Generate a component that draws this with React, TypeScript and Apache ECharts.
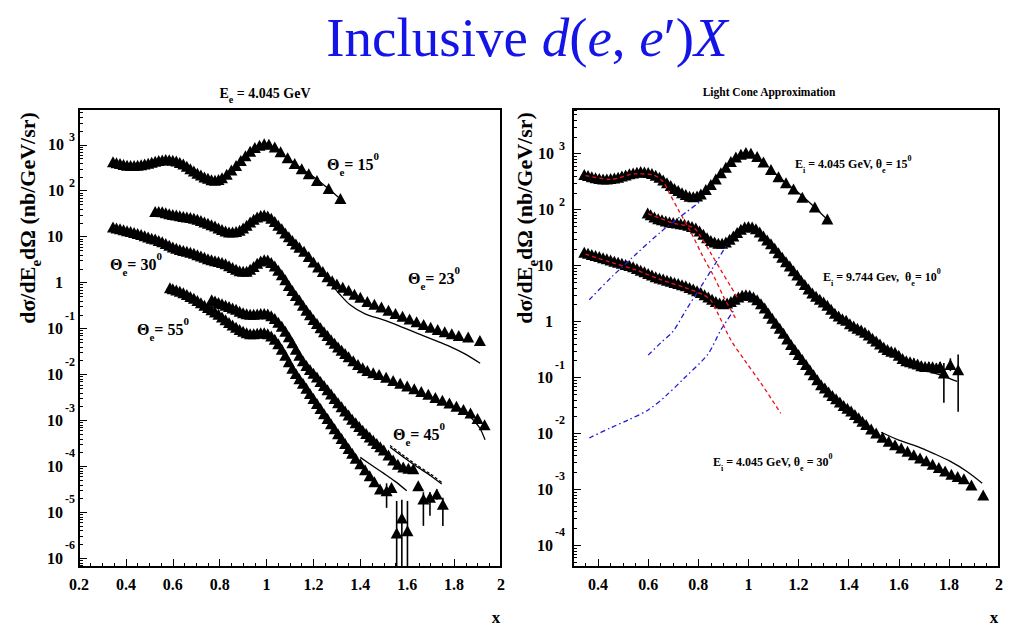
import React, { useEffect, useRef } from 'react';
import * as echarts from 'echarts';

const SERIF = '"Liberation Serif", "Times New Roman", Times, serif';

// ---------------- Left panel: E = 4.045 GeV ----------------
const theta15Data = [[0.345,427],[0.36,407],[0.375,389],[0.39,372],[0.405,359],[0.42,355],[0.435,355],[0.45,359],[0.465,367],[0.48,380],[0.495,398],[0.51,417],[0.525,437],[0.54,452],[0.555,468],[0.57,479],[0.585,473],[0.6,462],[0.615,442],[0.63,412],[0.645,380],[0.66,339],[0.675,302],[0.69,269],[0.705,240],[0.72,219],[0.735,200],[0.75,186],[0.765,174],[0.78,170],[0.795,176],[0.81,191],[0.83,229],[0.85,282],[0.87,355],[0.89,457],[0.91,575],[0.93,724],[0.95,871],[0.97,977],[0.99,1047],[1.01,1023],[1.035,891],[1.06,708],[1.09,525],[1.12,389],[1.15,302],[1.18,234],[1.215,166],[1.265,112],[1.315,68]];
const theta15Theory = [[1.1,470],[1.15,300],[1.2,200],[1.26,115],[1.32,63]];

const theta23Data = [[0.525,35.5],[0.54,35.5],[0.555,34.7],[0.57,33.1],[0.585,31.6],[0.6,30.2],[0.615,29.5],[0.63,28.5],[0.645,27.5],[0.66,26.9],[0.675,26.3],[0.69,25.1],[0.705,24],[0.72,22.4],[0.735,20.9],[0.75,19.5],[0.765,18.2],[0.78,17],[0.795,15.5],[0.81,14.3],[0.825,13.3],[0.84,12.7],[0.855,12.6],[0.87,12.9],[0.885,13.8],[0.9,15.5],[0.915,17.8],[0.93,20.9],[0.945,24],[0.96,26.9],[0.975,28.8],[0.99,29.5],[1.005,28.2],[1.02,25.1],[1.035,21.4],[1.05,17.8],[1.065,14.8],[1.08,12],[1.095,10],[1.11,8.3],[1.125,6.9],[1.14,5.9],[1.16,4.8],[1.18,3.7],[1.2,2.8],[1.22,2.19],[1.24,1.74],[1.26,1.35],[1.28,1.1],[1.3,0.93],[1.325,0.79],[1.35,0.68],[1.375,0.56],[1.4,0.48],[1.43,0.39],[1.46,0.34],[1.49,0.295],[1.52,0.25],[1.55,0.214],[1.58,0.186],[1.61,0.162],[1.64,0.141],[1.67,0.123],[1.7,0.107],[1.73,0.0955],[1.76,0.085],[1.79,0.0776],[1.82,0.0708],[1.86,0.066],[1.91,0.055]];
const theta23Theory = [[1.27,1.0],[1.31,0.575],[1.356,0.33],[1.42,0.209],[1.498,0.155],[1.57,0.112],[1.641,0.0794],[1.71,0.0575],[1.783,0.0407],[1.85,0.0275],[1.911,0.0176]];

const theta30Data = [[0.345,16.2],[0.36,15.5],[0.375,14.8],[0.39,14.1],[0.405,13.5],[0.42,12.9],[0.435,12.3],[0.45,11.7],[0.465,11.2],[0.48,10.5],[0.495,9.8],[0.51,9.3],[0.525,8.9],[0.54,8.3],[0.555,7.8],[0.57,7.1],[0.585,6.5],[0.6,6.0],[0.615,5.6],[0.63,5.25],[0.645,5.0],[0.66,4.8],[0.675,4.57],[0.69,4.37],[0.705,4.07],[0.72,3.8],[0.735,3.55],[0.75,3.3],[0.765,3.16],[0.78,3.0],[0.795,2.88],[0.81,2.75],[0.825,2.57],[0.84,2.34],[0.855,2.14],[0.87,1.95],[0.885,1.82],[0.9,1.76],[0.915,1.78],[0.93,1.95],[0.945,2.24],[0.96,2.63],[0.975,2.95],[0.99,3.16],[1.005,3.09],[1.02,2.75],[1.035,2.29],[1.05,1.86],[1.065,1.48],[1.08,1.15],[1.095,0.87],[1.11,0.676],[1.125,0.525],[1.14,0.417],[1.155,0.324],[1.17,0.251],[1.185,0.2],[1.2,0.158],[1.215,0.129],[1.23,0.105],[1.245,0.0851],[1.26,0.0708],[1.275,0.0575],[1.29,0.0479],[1.305,0.0398],[1.32,0.0339],[1.335,0.0288],[1.35,0.0245],[1.37,0.02],[1.39,0.0166],[1.41,0.0141],[1.43,0.0123],[1.455,0.011],[1.48,0.01],[1.51,0.0087],[1.54,0.00741],[1.57,0.00646],[1.6,0.00562],[1.63,0.0049],[1.66,0.00427],[1.69,0.00372],[1.72,0.00316],[1.75,0.00275],[1.78,0.0024],[1.81,0.00204],[1.84,0.00174],[1.87,0.00145],[1.9,0.0011],[1.93,0.000813]];
const theta30Theory = [[1.82,0.0019],[1.85,0.0015],[1.88,0.00105],[1.91,0.00068],[1.932,0.00038]];

const theta45Data = [[0.766,0.427],[0.78,0.398],[0.795,0.372],[0.81,0.347],[0.825,0.324],[0.84,0.302],[0.855,0.282],[0.87,0.263],[0.885,0.24],[0.9,0.222],[0.915,0.21],[0.93,0.204],[0.945,0.204],[0.96,0.209],[0.975,0.214],[0.99,0.214],[1.005,0.209],[1.02,0.191],[1.035,0.166],[1.05,0.138],[1.065,0.112],[1.08,0.0871],[1.095,0.0661],[1.11,0.0490],[1.125,0.0355],[1.14,0.0263],[1.155,0.02],[1.17,0.0158],[1.185,0.0129],[1.2,0.0107],[1.215,0.0089],[1.23,0.00708],[1.245,0.00575],[1.26,0.00468],[1.275,0.0038],[1.29,0.00302],[1.305,0.00245],[1.32,0.002],[1.335,0.00162],[1.35,0.00132],[1.365,0.00107],[1.38,0.00089],[1.395,0.00074],[1.41,0.000617],[1.425,0.000525],[1.44,0.000437],[1.455,0.000372],[1.47,0.000316],[1.485,0.000269],[1.5,0.000229],[1.52,0.000178],[1.54,0.000138],[1.56,0.000112],[1.583,0.0000977],[1.605,0.0000912],[1.626,0.0000891],[1.647,0.000038],[1.669,0.0000195],[1.697,0.0000214],[1.726,0.0000251],[1.752,0.0000151]];
const theta45Errors = [[1.669,0.0000051,0.0000275],[1.697,0.0000085,0.0000275],[1.726,0.000019,0.000032],[1.752,0.0000051,0.000021]];
const theta45Theory = [[1.527,0.000263],[1.58,0.000166],[1.64,0.0001],[1.7,0.000063],[1.747,0.0000417]];
const theta45TheoryAlt = [[1.527,0.000285],[1.58,0.00018],[1.64,0.000108],[1.7,0.000068],[1.747,0.000045]];

const theta55Data = [[0.588,0.776],[0.6,0.741],[0.615,0.692],[0.63,0.646],[0.645,0.603],[0.66,0.55],[0.675,0.501],[0.69,0.457],[0.705,0.407],[0.72,0.363],[0.735,0.324],[0.75,0.288],[0.765,0.257],[0.78,0.229],[0.795,0.204],[0.81,0.178],[0.825,0.155],[0.84,0.135],[0.855,0.12],[0.87,0.107],[0.885,0.0955],[0.9,0.0871],[0.915,0.0813],[0.93,0.0776],[0.945,0.0776],[0.96,0.0794],[0.975,0.0813],[0.99,0.0813],[1.005,0.0776],[1.02,0.0692],[1.035,0.0589],[1.05,0.0468],[1.065,0.0355],[1.08,0.0263],[1.095,0.0191],[1.11,0.0138],[1.125,0.0105],[1.14,0.00813],[1.155,0.00646],[1.17,0.00501],[1.185,0.00389],[1.2,0.00302],[1.215,0.00234],[1.23,0.00182],[1.245,0.00141],[1.26,0.0011],[1.275,0.000851],[1.29,0.000661],[1.305,0.000513],[1.32,0.000407],[1.335,0.000316],[1.35,0.000245],[1.365,0.000195],[1.38,0.000151],[1.4,0.000115],[1.42,0.0000851],[1.44,0.0000631],[1.46,0.0000468],[1.484,0.0000324],[1.512,0.0000295],[1.533,0.0000347],[1.555,0.00000355],[1.577,0.00000759],[1.601,0.00000398]];
const theta55Errors = [[1.512,0.0000126,0.000043],[1.555,0.0000001,0.0000178],[1.577,0.0000001,0.000019],[1.601,0.0000001,0.0000178]];
const theta55Theory = [[1.4,0.000158],[1.45,0.000105],[1.5,0.0000708],[1.55,0.0000468],[1.598,0.0000295]];

// ---------------- Right panel: light cone approximation ----------------
const e9Data = [[0.598,87],[0.61,81],[0.625,74],[0.64,69],[0.655,66],[0.67,63],[0.685,60],[0.7,59],[0.715,57.5],[0.73,56],[0.745,55],[0.76,52.5],[0.775,50],[0.79,46.8],[0.805,41.7],[0.82,36.3],[0.835,31.6],[0.85,28.2],[0.865,26.3],[0.88,25.1],[0.895,25.1],[0.91,26.3],[0.925,29.5],[0.94,33.9],[0.955,38.9],[0.97,44.7],[0.985,49],[1.0,50],[1.015,49],[1.03,45.7],[1.045,39.8],[1.06,33.9],[1.075,28.8],[1.09,24.5],[1.105,20.4],[1.12,17],[1.135,14.1],[1.15,11.7],[1.165,9.8],[1.18,8.1],[1.195,6.8],[1.21,5.5],[1.225,4.6],[1.24,3.8],[1.255,3.24],[1.27,2.82],[1.285,2.51],[1.3,2.24],[1.315,1.95],[1.33,1.66],[1.345,1.41],[1.36,1.26],[1.375,1.12],[1.39,1.05],[1.405,0.912],[1.42,0.832],[1.435,0.759],[1.45,0.708],[1.465,0.646],[1.48,0.575],[1.495,0.501],[1.51,0.447],[1.525,0.398],[1.54,0.347],[1.555,0.316],[1.57,0.295],[1.585,0.282],[1.6,0.251],[1.615,0.219],[1.63,0.2],[1.645,0.191],[1.66,0.182],[1.675,0.174],[1.69,0.162],[1.705,0.158],[1.72,0.158],[1.735,0.155],[1.75,0.148],[1.765,0.158],[1.78,0.12],[1.806,0.17],[1.837,0.138]];
const e9Errors = [[1.66,0.15,0.22],[1.69,0.135,0.195],[1.72,0.13,0.19],[1.75,0.12,0.18],[1.765,0.13,0.19],[1.78,0.0355,0.182],[1.806,0.13,0.22],[1.837,0.0245,0.257]];
const e9Theory = [[1.55,0.3],[1.607,0.2],[1.7,0.138],[1.78,0.105],[1.833,0.085]];

const r30Data = [[0.345,17.4],[0.36,16.6],[0.375,15.8],[0.39,15.1],[0.405,14.5],[0.42,13.8],[0.435,13.2],[0.45,12.6],[0.465,12],[0.48,11.5],[0.495,11],[0.51,10.5],[0.525,10],[0.54,9.55],[0.555,8.9],[0.57,8.3],[0.585,7.76],[0.6,7.24],[0.615,6.76],[0.63,6.31],[0.645,6.03],[0.66,5.75],[0.675,5.5],[0.69,5.25],[0.705,5.0],[0.72,4.79],[0.735,4.57],[0.75,4.37],[0.765,4.07],[0.78,3.8],[0.795,3.55],[0.81,3.31],[0.825,3.02],[0.84,2.75],[0.855,2.51],[0.87,2.29],[0.885,2.14],[0.9,2.09],[0.915,2.14],[0.93,2.29],[0.945,2.51],[0.96,2.75],[0.975,2.95],[0.99,3.02],[1.005,2.95],[1.02,2.75],[1.035,2.45],[1.05,2.09],[1.065,1.74],[1.08,1.41],[1.095,1.15],[1.11,0.933],[1.125,0.759],[1.14,0.617],[1.155,0.49],[1.17,0.389],[1.185,0.316],[1.2,0.257],[1.215,0.209],[1.23,0.17],[1.245,0.138],[1.26,0.112],[1.275,0.0912],[1.29,0.0741],[1.305,0.0646],[1.32,0.055],[1.335,0.0479],[1.35,0.0417],[1.365,0.0363],[1.38,0.0316],[1.395,0.0282],[1.41,0.0251],[1.425,0.0219],[1.44,0.0191],[1.455,0.0166],[1.47,0.0145],[1.49,0.012],[1.51,0.0102],[1.535,0.00851],[1.56,0.00724],[1.585,0.00631],[1.61,0.0055],[1.635,0.00479],[1.66,0.00417],[1.685,0.00363],[1.71,0.00324],[1.735,0.00282],[1.76,0.00245],[1.785,0.00214],[1.81,0.00186],[1.835,0.0017],[1.86,0.00155],[1.89,0.0012],[1.937,0.000794]];
const r30Theory = [[1.53,0.0105],[1.6,0.00759],[1.673,0.00589],[1.74,0.00437],[1.806,0.00316],[1.872,0.00209],[1.933,0.00129]];

const redA = [[0.35,407],[0.45,347],[0.55,437],[0.62,417],[0.66,316],[0.678,224],[0.72,100],[0.77,39.8],[0.82,14.1],[0.863,6.3],[0.9,2.82],[0.95,1.12]];
const redB = [[0.6,85],[0.7,57.5],[0.78,47.9],[0.81,33],[0.85,16.6],[0.89,8.3],[0.93,4.2],[0.96,2.5]];
const redC = [[0.35,16],[0.45,11.5],[0.55,8.4],[0.65,5.6],[0.75,4.0],[0.82,3.0],[0.85,2.4],[0.877,1.43],[0.93,0.468],[0.983,0.209],[1.05,0.0794],[1.129,0.0229]];
const blueA = [[0.365,2.45],[0.45,6.0],[0.55,15.8],[0.65,39.8],[0.75,89],[0.81,141]];
const blueB = [[0.6,0.251],[0.65,0.417],[0.7,0.676],[0.75,1.58],[0.81,4.17],[0.87,11.2],[0.917,25.1]];
const blueC = [[0.365,0.0083],[0.45,0.0126],[0.52,0.0174],[0.6,0.0263],[0.67,0.0468],[0.744,0.0977],[0.837,0.257],[0.89,0.708],[0.943,1.62]];

const rightXTicks = [0.4, 0.6, 0.8, 1, 1.2, 1.4, 1.6, 1.8, 2];

// ---------------- helpers ----------------
function logLabel(v: number): string {
  const l = Math.log10(v);
  const e = Math.round(l);
  if (Math.abs(l - e) > 1e-3) return '';
  if (e === 0) return '{one|1}';
  if (e === 1) return '{one|10}';
  if (e > 0) return `{bp|10}{sp|${e}}`;
  return `{bn|10}{sn|${e}}`;
}

const labelRich = {
  bn: { fontSize: 16, fontWeight: 'bold', fontFamily: SERIF, color: '#000', lineHeight: 38, verticalAlign: 'middle' },
  bp: { fontSize: 16, fontWeight: 'bold', fontFamily: SERIF, color: '#000', lineHeight: 28, verticalAlign: 'middle' },
  one: { fontSize: 16, fontWeight: 'bold', fontFamily: SERIF, color: '#000', lineHeight: 20, verticalAlign: 'middle', padding: [0, 12, 0, 0] },
  sn: { fontSize: 12, fontWeight: 'bold', fontFamily: SERIF, color: '#000', lineHeight: 12, verticalAlign: 'top', padding: [0, 0, 0, 2] },
  sp: { fontSize: 12, fontWeight: 'bold', fontFamily: SERIF, color: '#000', lineHeight: 12, verticalAlign: 'top', padding: [0, 0, 0, 5] },
};

function richText(fs: number, lh: number) {
  const base = { fontWeight: 'bold', fontFamily: SERIF, fill: '#000' };
  return {
    n: { ...base, fontSize: fs, lineHeight: lh, verticalAlign: 'middle' },
    sub: { ...base, fontSize: Math.round(fs * 0.7), lineHeight: Math.round(fs * 0.7), verticalAlign: 'bottom' },
    sup: { ...base, fontSize: Math.round(fs * 0.7), lineHeight: Math.round(fs * 0.7), verticalAlign: 'top' },
  };
}

function label(x: number, y: number, text: string, fs: number, lh: number, align = 'left', extra: any = {}) {
  return {
    type: 'text', x, y, silent: true, ...extra,
    style: { text, align, verticalAlign: 'middle', rich: richText(fs, lh), fill: '#000' },
  };
}

function errRender(params: any, api: any) {
  const cs = params.coordSys;
  const x = api.value(0);
  const p1 = api.coord([x, api.value(1)]);
  const p2 = api.coord([x, api.value(2)]);
  const top = cs.y, bottom = cs.y + cs.height;
  const clamp = (v: number) => Math.min(Math.max(v, top), bottom);
  return {
    type: 'line',
    shape: { x1: p1[0], y1: clamp(p1[1]), x2: p2[0], y2: clamp(p2[1]) },
    style: { stroke: '#000', lineWidth: 1.6 },
  };
}

const axisFont = { fontFamily: SERIF, fontWeight: 'bold', fontSize: 16, color: '#000' };

export default function App() {
  const ref = useRef<HTMLDivElement>(null);
  useEffect(() => {
    const chart = echarts.init(ref.current!, null, { renderer: 'svg' });

    const scatter = (data: number[][], xi: number, yi: number) => ({
      type: 'scatter', data, xAxisIndex: xi, yAxisIndex: yi, symbol: 'triangle',
      symbolSize: [12, 11], itemStyle: { color: '#000', opacity: 1 }, silent: true, z: 3,
    });
    const line = (data: number[][], xi: number, yi: number, color = '#000', type: any = 'solid', width = 1.3) => ({
      type: 'line', data, xAxisIndex: xi, yAxisIndex: yi, showSymbol: false, symbol: 'none', smooth: 0.3,
      lineStyle: { color, width, type }, silent: true, z: 4,
    });
    const errs = (data: number[][], xi: number, yi: number) => ({
      type: 'custom', data, xAxisIndex: xi, yAxisIndex: yi, renderItem: errRender,
      encode: { x: 0, y: [1, 2] }, silent: true, z: 5,
    });

    const gridBase = { show: true, borderColor: '#000', borderWidth: 2, backgroundColor: 'transparent', containLabel: false };
    const tickStyle = { color: '#000', width: 1 };

    const option: any = {
      animation: false,
      backgroundColor: '#fff',
      grid: [
        { ...gridBase, left: 79, top: 109, width: 422, height: 458 },
        { ...gridBase, left: 573, top: 109, width: 426, height: 458 },
      ],
      xAxis: [
        {
          gridIndex: 0, type: 'value', position: 'bottom', min: 0.2, max: 2, interval: 0.2,
          axisLine: { lineStyle: { color: '#000', width: 2 } },
          axisTick: { inside: true, length: 8, lineStyle: tickStyle },
          minorTick: { show: true, splitNumber: 4, length: 4, lineStyle: tickStyle },
          splitLine: { show: false }, minorSplitLine: { show: false },
          axisLabel: { ...axisFont, margin: 9 },
        },
        {
          gridIndex: 1, type: 'value', position: 'bottom', min: 0.3, max: 2, interval: 0.05,
          axisLine: { lineStyle: { color: '#000', width: 2 } },
          axisTick: { inside: true, length: 8, lineStyle: tickStyle, customValues: rightXTicks },
          splitLine: { show: false },
          axisLabel: { ...axisFont, margin: 9, customValues: rightXTicks },
        },
        {
          gridIndex: 1, type: 'value', position: 'bottom', min: 0.3, max: 2, interval: 0.05,
          axisLine: { show: false },
          axisTick: { inside: true, length: 4, lineStyle: tickStyle },
          splitLine: { show: false },
          axisLabel: { show: false },
        },
      ],
      yAxis: [
        {
          gridIndex: 0, type: 'log', logBase: 10, min: 6.5e-7, max: 6000, splitNumber: 10,
          axisLine: { lineStyle: { color: '#000', width: 2 } },
          axisTick: { inside: true, length: 8, lineStyle: tickStyle },
          minorTick: { show: true, splitNumber: 9, length: 4, lineStyle: tickStyle },
          splitLine: { show: false }, minorSplitLine: { show: false },
          axisLabel: { margin: 4, formatter: logLabel, rich: labelRich, color: '#000' },
        },
        {
          gridIndex: 1, type: 'log', logBase: 10, min: 4.1e-5, max: 6300, splitNumber: 10,
          axisLine: { lineStyle: { color: '#000', width: 2 } },
          axisTick: { inside: true, length: 8, lineStyle: tickStyle },
          minorTick: { show: true, splitNumber: 9, length: 4, lineStyle: tickStyle },
          splitLine: { show: false }, minorSplitLine: { show: false },
          axisLabel: { margin: 8, formatter: logLabel, rich: labelRich, color: '#000' },
        },
      ],
      series: [
        // left panel
        scatter(theta15Data, 0, 0),
        scatter(theta23Data, 0, 0),
        scatter(theta30Data, 0, 0),
        scatter(theta45Data, 0, 0),
        scatter(theta55Data, 0, 0),
        line(theta15Theory, 0, 0),
        line(theta23Theory, 0, 0),
        line(theta30Theory, 0, 0),
        line(theta45Theory, 0, 0),
        line(theta45TheoryAlt, 0, 0, '#000', [3, 2], 1.2),
        line(theta55Theory, 0, 0),
        errs(theta45Errors, 0, 0),
        errs(theta55Errors, 0, 0),
        // right panel
        line(redA, 1, 1, '#e8141e', [4, 3], 1.3),
        line(redB, 1, 1, '#e8141e', [4, 3], 1.3),
        line(redC, 1, 1, '#e8141e', [4, 3], 1.3),
        line(blueA, 1, 1, '#1e1ed2', [5, 3, 1.5, 3], 1.3),
        line(blueB, 1, 1, '#1e1ed2', [5, 3, 1.5, 3], 1.3),
        line(blueC, 1, 1, '#1e1ed2', [5, 3, 1.5, 3], 1.3),
        scatter(theta15Data, 1, 1),
        scatter(e9Data, 1, 1),
        scatter(r30Data, 1, 1),
        line(theta15Theory, 1, 1),
        line(e9Theory, 1, 1),
        line(r30Theory, 1, 1),
        errs(e9Errors, 1, 1),
      ],
      graphic: [
        {
          type: 'text', x: 527, y: 37, silent: true,
          style: {
            text: '{r|Inclusive }{i|d}{r|(}{i|e}{r|, }{i|e}{r|′)}{i|X}',
            align: 'center', verticalAlign: 'middle', fill: '#1414e6',
            rich: {
              r: { fontSize: 55, fontFamily: SERIF, fill: '#1414e6' },
              i: { fontSize: 55, fontFamily: SERIF, fontStyle: 'italic', fill: '#1414e6' },
            },
          },
        },
        label(265, 93, '{n|E}{sub|e}{n| = 4.045 GeV}', 14, 22, 'center'),
        label(769, 92, '{n|Light Cone Approximation}', 11.5, 16, 'center'),
        label(27, 218, '{n|dσ/dE}{sub|e}{n|dΩ (nb/GeV/sr)}', 22, 32, 'center', { rotation: Math.PI / 2 }),
        label(524, 218, '{n|dσ/dE}{sub|e}{n|dΩ (nb/GeV/sr)}', 22, 32, 'center', { rotation: Math.PI / 2 }),
        label(496, 617, '{n|x}', 17, 20, 'center'),
        label(994, 617, '{n|x}', 17, 20, 'center'),
        label(327, 164, '{n|Θ}{sub|e}{n|= 15}{sup|0}', 16, 27),
        label(110, 264, '{n|Θ}{sub|e}{n|= 30}{sup|0}', 16, 27),
        label(408, 278, '{n|Θ}{sub|e}{n|= 23}{sup|0}', 16, 27),
        label(137, 329, '{n|Θ}{sub|e}{n|= 55}{sup|0}', 16, 27),
        label(393, 434, '{n|Θ}{sub|e}{n|= 45}{sup|0}', 16, 27),
        label(795, 164, '{n|E}{sub|i}{n| = 4.045 GeV, θ}{sub|e}{n|= 15}{sup|0}', 12, 20),
        label(823, 277, '{n|E}{sub|i}{n| = 9.744 Gev,  θ}{sub|e}{n|= 10}{sup|0}', 12, 20),
        label(713, 462, '{n|E}{sub|i}{n| = 4.045 GeV, θ}{sub|e}{n| = 30}{sup|0}', 12, 20),
      ],
    };
    chart.setOption(option);
    return () => chart.dispose();
  }, []);
  return <div ref={ref} style={{ position: 'fixed', left: 0, top: 0, width: 1024, height: 640, background: '#fff' }} />;
}
